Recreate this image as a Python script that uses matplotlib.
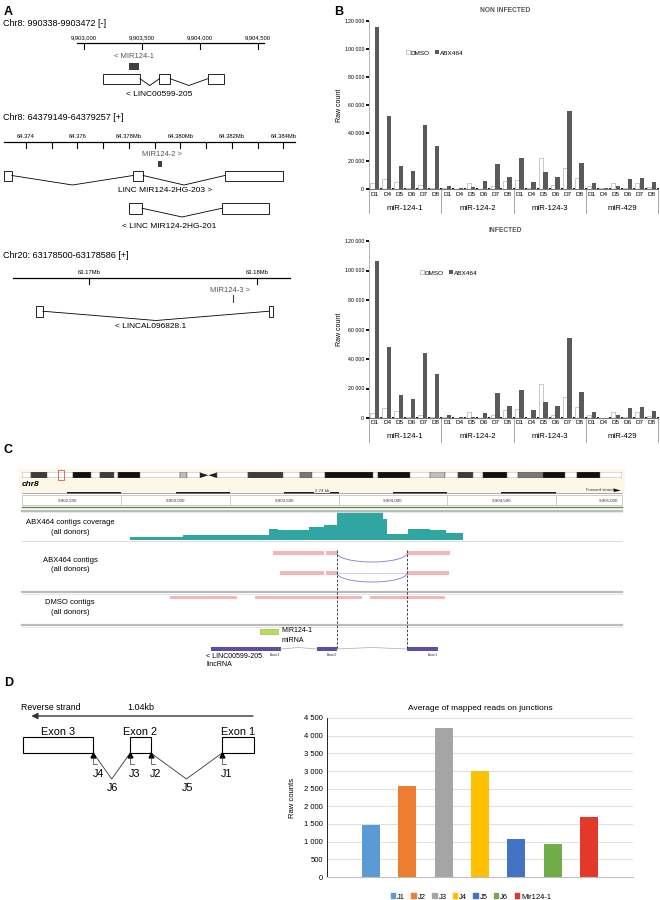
import numpy as np
import matplotlib.pyplot as plt
from matplotlib.patches import Rectangle, Arc, Polygon, Patch

plt.rcParams['font.family'] = ['Liberation Sans', 'DejaVu Sans']
NARROW = ['Liberation Sans Narrow', 'Liberation Sans', 'DejaVu Sans']

W, H = 660, 900

# ---------------- data ----------------
# panel A - MIR124-1 locus (chr8, bp)
mir124_1 = (9903388, 9903472)
linc00599_exons = [(9903165, 9903483), (9903650, 9903743), (9904066, 9904208)]
a1_ruler = (9902940, 9904552)
a1_ticks = [9903000, 9903500, 9904000, 9904500]
a1_labels = ['9,903,000', '9,903,500', '9,904,000', '9,904,500']

# MIR124-2 locus (chr8)
mir124_2 = (64379149, 64379257)
hg203_exons = [(64373140, 64373450), (64378160, 64378550), (64381730, 64383990)]
hg201_exons = [(64378000, 64378510), (64381620, 64383440)]
a2_ruler = (64373140, 64384460)
a2_ticks = [64374000, 64375000, 64376000, 64377000, 64378000, 64379000,
            64380000, 64381000, 64382000, 64383000, 64384000]
a2_labels = {64374000: '64.374', 64376000: '64.376', 64378000: '64.378Mb',
             64380000: '64.380Mb', 64382000: '64.382Mb', 64384000: '64.384Mb'}

# MIR124-3 locus (chr20)
mir124_3 = (63178500, 63178586)
al096828_exons = [(63166850, 63167260), (63180710, 63180950)]
a3_ruler = (63165480, 63181960)
a3_ticks = [63170000, 63180000]
a3_labels = ['63.17Mb', '63.18Mb']

# panel B - raw counts
days = ['D1', 'D4', 'D5', 'D6', 'D7', 'D8']
mirnas = ['miR-124-1', 'miR-124-2', 'miR-124-3', 'miR-429']
noninf_dmso = [4500, 7000, 5000, 500, 2600, 1000,
               500, 300, 4300, 300, 2400, 5700,
               6400, 500, 22000, 2600, 14700, 7600,
               2100, 400, 4000, 500, 4000, 1500]
noninf_abx = [116000, 51800, 16400, 13000, 45400, 30900,
              2400, 1000, 1200, 5500, 17600, 8800,
              21900, 5200, 11900, 8300, 55600, 18300,
              4000, 400, 2100, 6900, 7600, 5000]
inf_dmso = [3600, 6900, 4900, 500, 2200, 900,
            800, 200, 4000, 300, 2000, 5600,
            6200, 300, 22900, 2000, 14400, 7300,
            1800, 300, 4000, 500, 4000, 1500]
inf_abx = [106700, 48400, 15600, 12900, 44000, 29800,
           2000, 900, 700, 3600, 17100, 8200,
           18700, 5100, 10900, 7800, 54400, 17600,
           3800, 300, 2200, 6700, 7300, 4900]

# panel C - genome browser view (chr8, bp)
chr8_bands = [(0, 2.2, 'w'), (2.2, 6.0, 'g1'), (6.0, 12.3, 'w'), (12.3, 16.7, 'k'),
              (16.7, 18.9, 'w'), (18.9, 22.2, 'g1'), (22.2, 23.2, 'w'), (23.2, 28.5, 'k'),
              (28.5, 38.2, 'w'), (38.2, 39.9, 'g3'), (39.9, 43.0, 'w'), (47.1, 54.6, 'w'),
              (54.6, 63.1, 'g1'), (63.1, 67.2, 'w'), (67.2, 70.1, 'g2'), (70.1, 73.2, 'w'),
              (73.2, 84.8, 'k'), (84.8, 86.0, 'w'), (86.0, 93.8, 'k'), (93.8, 98.6, 'w'),
              (98.6, 102.2, 'g3'), (102.2, 105.4, 'w'), (105.4, 109.0, 'g1'), (109.0, 111.4, 'w'),
              (111.4, 117.2, 'k'), (117.2, 119.9, 'w'), (119.9, 125.9, 'g2'), (125.9, 131.2, 'k'),
              (131.2, 134.1, 'w'), (134.1, 139.7, 'k'), (139.7, 145.0, 'w')]
chr8_centromere = (43.0, 47.1)
chr8_view = (8.7, 10.2)
c_ticks = [9902500, 9903000, 9903500, 9904000, 9904500, 9905000]
c_tick_labels = ['9,902,500', '9,903,000', '9,903,500', '9,904,000', '9,904,500', '9,905,000']
cov_edges = [9902790, 9903034, 9903430, 9903471, 9903614, 9903683, 9903743, 9903798,
             9903858, 9903955, 9903973, 9904070, 9904171, 9904245, 9904323]
cov_depth = [3, 5, 11, 10, 13, 15, 28, 30, 28, 21, 6, 11, 10, 7]
abx_contigs_1 = [(9903448, 9903683), (9903692, 9903743), (9904066, 9904263)]
abx_contigs_2 = [(9903481, 9903683), (9903692, 9903743), (9904066, 9904259)]
dmso_contigs = [(9902974, 9903283), (9903366, 9903858), (9903895, 9904240)]
splice = (9903743, 9904066)

# panel D
junction_names = ['J1', 'J2', 'J3', 'J4', 'J5', 'J6', 'Mir124-1']
junction_reads = [1480, 2570, 4230, 3000, 1075, 945, 1700]
junction_colors = ['#5b9bd5', '#ed7d31', '#a5a5a5', '#ffc000', '#4472c4', '#70ad47', '#e3392a']

# ---------------- helpers ----------------
fig = plt.figure(figsize=(W / 100, H / 100), dpi=100)


def px_axes(l, t, r, b):
    return fig.add_axes([l / W, 1 - b / H, (r - l) / W, (b - t) / H])


def track_axes(x0, x1, y0, y1, anchor, anchor_px, px_per_unit):
    ax = px_axes(x0, y0, x1, y1)
    ax.set_xlim(anchor - (anchor_px - x0) / px_per_unit, anchor + (x1 - anchor_px) / px_per_unit)
    ax.set_ylim(y1, y0)
    ax.axis('off')
    return ax


ov = px_axes(0, 0, W, H)
ov.set_xlim(0, W)
ov.set_ylim(H, 0)
ov.axis('off')


def ptext(x, y, s, **kw):
    kw.setdefault('va', 'center')
    ov.text(x, y, s, **kw)


def transcript(ax, exons, top, h, dip, lw=0.6, connect=True):
    for s, e in exons:
        ax.add_patch(Rectangle((s, top), e - s, h, fc='white', ec='black', lw=lw))
    if not connect:
        return
    mid = top + h / 2
    for (s1, e1), (s2, e2) in zip(exons[:-1], exons[1:]):
        ax.plot([e1, (e1 + s2) / 2, s2], [mid, top + h + dip, mid], color='black', lw=lw)


def ruler(ax, span, y, ticks, labels, tlen=6):
    ax.plot(span, [y, y], color='black', lw=0.9)
    for t in ticks:
        ax.plot([t, t], [y, y + tlen], color='black', lw=0.8)
    for t, lab in labels:
        ax.text(t, y - 2.5, lab, ha='center', va='bottom', fontsize=4.2, family=NARROW)


# ---------------- panel A ----------------
ptext(4, 12, 'A', fontsize=9, weight='bold')

a1 = track_axes(0, 330, 15, 100, 9903000, 84, 0.116)
ptext(3, 24, 'Chr8: 990338-9903472 [-]', fontsize=6.5)
ruler(a1, a1_ruler, 43, a1_ticks, zip(a1_ticks, a1_labels))
a1.text(sum(mir124_1) / 2, 57, '< MIR124-1', ha='center', va='center', fontsize=5.5, color='#555555')
a1.add_patch(Rectangle((mir124_1[0], 63), mir124_1[1] - mir124_1[0], 7, fc='#404040', ec='none'))
transcript(a1, linc00599_exons, 73.5, 10.5, 1.5)
a1.text(9903650, 94, '< LINC00599-205', ha='center', va='center', fontsize=6)

a2 = track_axes(0, 330, 110, 235, 64374000, 26, 0.02573)
ptext(3, 118, 'Chr8: 64379149-64379257 [+]', fontsize=6.5)
ruler(a2, a2_ruler, 142, a2_ticks, a2_labels.items())
a2.text(64379300, 155, 'MIR124-2 >', ha='center', va='center', fontsize=5.5, color='#555555')
a2.add_patch(Rectangle((mir124_2[0], 160.5), mir124_2[1] - mir124_2[0] + 40, 6.5, fc='#404040', ec='none'))
transcript(a2, hg203_exons, 170.5, 10, 4.5)
a2.text(64379400, 190, 'LINC MIR124-2HG-203 >', ha='center', va='center', fontsize=6)
transcript(a2, hg201_exons, 203, 10.5, 3.5)
a2.text(64379550, 226, '< LINC MIR124-2HG-201', ha='center', va='center', fontsize=6)

a3 = track_axes(0, 330, 245, 335, 63170000, 89, 0.0168)
ptext(3, 255, 'Chr20: 63178500-63178586 [+]', fontsize=6.5)
ruler(a3, a3_ruler, 278, a3_ticks, zip(a3_ticks, a3_labels))
a3.text(mir124_3[0] - 100, 290, 'MIR124-3 >', ha='center', va='center', fontsize=5.5, color='#555555')
a3.plot([mir124_3[0] + 60, mir124_3[0] + 60], [295, 302], color='#404040', lw=0.8)
transcript(a3, al096828_exons, 306, 10.5, 4)
a3.text(63173650, 327, '< LINCAL096828.1', ha='center', va='center', fontsize=6)

# ---------------- panel B ----------------
ptext(334, 12, 'B', fontsize=9, weight='bold')


def count_panel(t, b, dmso, abx, title, leg_x, leg_y):
    l, r = 369, 658
    ax = px_axes(l, t, r, b)
    hpx = b - t
    n = len(dmso)
    x = np.arange(n)
    ax.bar(x + 0.28, dmso, 0.36, color='white', edgecolor='#b0b0b0', lw=0.5, label='DMSO')
    ax.bar(x + 0.66, abx, 0.36, color='#5a5a5a', lw=0, label='ABX464')
    ax.set_xlim(0, n)
    ax.set_ylim(0, 120000)
    ax.set_facecolor('none')
    for s in ['top', 'right']:
        ax.spines[s].set_visible(False)
    ax.spines['left'].set_color('#999999')
    ax.spines['bottom'].set_color('#777777')
    ax.spines['left'].set_linewidth(0.5)
    ax.spines['bottom'].set_linewidth(0.8)
    ax.set_yticks(np.arange(0, 120001, 20000))
    ax.yaxis.set_major_formatter(lambda v, p: f'{int(v):,}'.replace(',', ' '))
    ax.tick_params(axis='y', length=2, width=1.3, color='black', labelsize=3.8, pad=1.5)
    ax.set_xticks(x + 0.5)
    ax.set_xticklabels(days * len(mirnas))
    ax.set_xticks(np.arange(n + 1), minor=True)
    ax.tick_params(axis='x', which='major', length=0, labelsize=4.6, pad=1.8)
    ax.tick_params(axis='x', which='minor', length=2, width=1.3, color='black', direction='inout')
    tr = ax.get_xaxis_transform()
    for g in range(len(mirnas) + 1):
        ax.plot([g * 6, g * 6], [0, -24 / hpx], transform=tr, clip_on=False, color='#999999', lw=0.6)
    for g, name in enumerate(mirnas):
        ax.text(g * 6 + 3, -19 / hpx, name, transform=tr, ha='center', va='center', fontsize=5.6)
    ax.text(0.47, 1 + 11 / hpx, title, transform=ax.transAxes, ha='center', va='center',
            fontsize=4.8, weight='bold', color='#555555')
    ax.set_ylabel('Raw count', fontsize=5)
    ax.yaxis.set_label_coords(-26 / (r - l), 0.5)
    ax.legend(loc='center left', bbox_to_anchor=(leg_x / W, 1 - leg_y / H), bbox_transform=fig.transFigure,
              ncol=2, frameon=False, fontsize=4.6, handlelength=0.55, handleheight=0.55,
              handletextpad=0.15, columnspacing=0.9, borderpad=0, borderaxespad=0)
    return ax


count_panel(21, 189, noninf_dmso, noninf_abx, 'NON INFECTED', 406, 53)
count_panel(241, 418, inf_dmso, inf_abx, 'INFECTED', 420, 273)

# ---------------- panel C ----------------
ptext(4, 450, 'C', fontsize=9, weight='bold')
ov.add_patch(Rectangle((19, 469), 606, 24, fc='#fcf7e6', ec='none', zorder=0))

band_col = {'w': 'white', 'k': '#111111', 'g1': '#3c3c3c', 'g2': '#777777', 'g3': '#bdbdbd'}
ci = track_axes(22, 622, 472.5, 478, 0, 22, 600 / 145.0)
ci.set_ylim(1, 0)
for s, e, st in chr8_bands:
    ci.add_patch(Rectangle((s, 0), e - s, 1, fc=band_col[st], ec='#555555', lw=0.3))
c0, c1 = chr8_centromere
cm = (c0 + c1) / 2
ci.add_patch(Polygon([(c0, 0), (cm, 0.5), (c0, 1)], fc='#222222', ec='none'))
ci.add_patch(Polygon([(c1, 0), (cm, 0.5), (c1, 1)], fc='#222222', ec='none'))
ci.add_patch(Rectangle((chr8_view[0], -0.4), chr8_view[1] - chr8_view[0], 1.8, fc='none', ec='#e03030', lw=0.5,
                       clip_on=False))
ptext(22, 485, 'chr8', fontsize=6, weight='bold', style='italic')

c = track_axes(0, W, 440, 690, 9902500, 67, 0.2172)
lo, hi = 9902293, 9905055
c.plot([lo, hi], [492.5, 492.5], color='#888888', lw=0.5)
for t in c_ticks:
    if t + 250 <= hi:
        c.add_patch(Rectangle((t, 492), 250, 2.2, fc='#222222', ec='none'))
c.add_patch(Rectangle((lo, 494.5), hi - lo, 10.5, fc='white', ec='#aaaaaa', lw=0.4))
for t in c_ticks:
    if t + 250 < hi:
        c.plot([t + 250, t + 250], [494.5, 505], color='#aaaaaa', lw=0.4)
for t, lab in zip(c_ticks, c_tick_labels):
    c.text(min(t, hi - 60), 500.5, lab, ha='center', va='center', fontsize=3.2, color='#333333')
c.plot([lo, hi], [506.5, 506.5], color='#5d8c3e', lw=1.0)
c.text((lo + hi) / 2, 490.5, '2.74 kb', ha='center', va='center', fontsize=3.2, color='#333333',
       bbox=dict(fc='#fcf7e6', ec='none', pad=0.3))
c.text(hi - 40, 490, 'Forward strand', ha='right', va='center', fontsize=3, color='#333333')
c.add_patch(Polygon([(hi - 38, 488.5), (hi - 5, 490.5), (hi - 38, 492)], fc='#111111', ec='none'))
for y in [510.5, 592, 625]:
    c.plot([lo, hi], [y, y], color='#bbbbbb', lw=1.6)
    c.plot([lo, hi], [y + 1.6, y + 1.6], color='#e4e4e4', lw=0.6)

# coverage
ptext(70, 523, 'ABX464 contigs coverage', fontsize=5.5, ha='center')
ptext(70, 532, '(all donors)', fontsize=5.5, ha='center')
c.plot([lo, hi], [541, 541], color='#dddddd', lw=0.8)
c.stairs(540 - np.array(cov_depth), cov_edges, baseline=540, fill=True, color='#2fa6a1')

# ABX464 contigs
ptext(70, 561, 'ABX464 contigs', fontsize=5.5, ha='center')
ptext(70, 569.5, '(all donors)', fontsize=5.5, ha='center')
sp0, sp1 = splice
for y, contigs in [(553, abx_contigs_1), (573, abx_contigs_2)]:
    for s, e in contigs:
        c.add_patch(Rectangle((s, y - 1.8), e - s, 3.6, fc='#f4b5b7', ec='none'))
    c.add_patch(Arc(((sp0 + sp1) / 2, y), sp1 - sp0, 18, theta1=0, theta2=180, color='#7d78cc', lw=0.6))
c.plot([sp0, sp1], [573, 573], color='#c9c6ea', lw=0.6)
for sx in splice:
    c.plot([sx, sx], [550, 650], color='#222222', lw=0.6, dashes=(3, 2))

# DMSO contigs
ptext(70, 603, 'DMSO contigs', fontsize=5.5, ha='center')
ptext(70, 612, '(all donors)', fontsize=5.5, ha='center')
for s, e in dmso_contigs:
    c.add_patch(Rectangle((s, 595.5), e - s, 3.6, fc='#f4b5b7', ec='none'))

# gene track
c.add_patch(Rectangle((mir124_1[0], 629), mir124_1[1] - mir124_1[0], 4.5, fc='#b9dc5a', ec='#8db33a', lw=0.4))
c.text(mir124_1[1] + 15, 631, 'MIR124-1', ha='left', va='center', fontsize=5)
c.text(mir124_1[1] + 15, 640, 'miRNA', ha='left', va='center', fontsize=5)
for (s1, e1), (s2, e2) in zip(linc00599_exons[:-1], linc00599_exons[1:]):
    c.plot([e1, (e1 + s2) / 2, s2], [649, 647.5, 649], color='#aaaaaa', lw=0.5)
for (s, e), nm in zip(linc00599_exons, ['Exon3', 'Exon2', 'Exon1']):
    c.add_patch(Rectangle((s, 647), e - s, 4, fc='#5a4db0', ec='none'))
    c.text(e - 25, 655, nm, ha='center', va='center', fontsize=2.6, color='#333333')
c.text(linc00599_exons[0][0] - 25, 656, '< LINC00599-205', ha='left', va='center', fontsize=5)
c.text(linc00599_exons[0][0] - 25, 664, 'lincRNA', ha='left', va='center', fontsize=5)

# ---------------- panel D ----------------
ptext(4, 683, 'D', fontsize=9, weight='bold')

d = track_axes(0, 300, 695, 800, linc00599_exons[0][0], 23, 0.221)
g_lo = min(s for s, e in linc00599_exons)
g_hi = max(e for s, e in linc00599_exons)
d.annotate('', xy=(g_lo + 25, 716), xytext=(g_hi + 10, 716),
           arrowprops=dict(arrowstyle='-|>', color='#333333', lw=1.0, mutation_scale=9))
d.text(g_lo - 10, 708, 'Reverse strand', ha='left', va='center', fontsize=6.3)
d.text((g_lo + g_hi) / 2 + 10, 708, f'{(g_hi - g_lo) / 1000:.2f}kb', ha='center', va='center', fontsize=6.5)
transcript(d, linc00599_exons, 737, 16, 0, lw=0.8, connect=False)
for (s, e), nm in zip(linc00599_exons, ['Exon 3', 'Exon 2', 'Exon 1']):
    d.text((s + e) / 2, 732, nm, ha='center', va='center', fontsize=7.8)
ex = linc00599_exons
intr = [(ex[0][1], ex[1][0]), (ex[1][1], ex[2][0])]
for (a, b) in intr:
    d.plot([a, (a + b) / 2, b], [753, 779, 753], color='#333333', lw=0.6)
junction_sites = [(ex[2][0], 'J1'), (ex[1][1], 'J2'), (ex[1][0], 'J3'), (ex[0][1], 'J4')]
for pos, nm in junction_sites:
    d.plot([pos], [754.5], marker='^', ms=3.5, color='black')
    d.plot([pos, pos, pos + 18], [756, 764, 764], color='#333333', lw=0.5)
    d.text(pos + 22, 774, nm, ha='center', va='center', fontsize=7.8)
for (a, b), nm in zip(intr, ['J6', 'J5']):
    d.text((a + b) / 2 + 5, 788, nm, ha='center', va='center', fontsize=7.8)

ax = px_axes(327, 718, 633, 877)
xj = np.arange(len(junction_reads))
ax.bar(xj, junction_reads, 0.5, color=junction_colors, zorder=2)
ax.set_xlim(3 - 4.21, 3 + 4.21)
ax.set_ylim(0, 4500)
ax.set_yticks(np.arange(0, 4501, 500))
ax.yaxis.set_major_formatter(lambda v, p: f'{int(v):,}'.replace(',', ' '))
ax.grid(axis='y', color='#d9d9d9', lw=0.6, zorder=0)
ax.set_xticks([])
ax.tick_params(axis='y', length=0, labelsize=5.5, pad=3)
for s in ['top', 'right']:
    ax.spines[s].set_visible(False)
ax.spines['left'].set_linewidth(0.6)
ax.spines['bottom'].set_color('#bfbfbf')
ax.set_facecolor('none')
ax.set_title('Average of mapped reads on junctions', fontsize=6, pad=6)
ax.set_ylabel('Raw counts', fontsize=5.5)
ax.yaxis.set_label_coords(-31 / 306, 0.5)
handles = [Patch(color=cc) for cc in junction_colors]
ax.legend(handles, junction_names, loc='center', bbox_to_anchor=(471 / W, 1 - 897 / H),
          bbox_transform=fig.transFigure, ncol=7, frameon=False, fontsize=5.5,
          handlelength=0.6, handleheight=0.6, handletextpad=0.25, columnspacing=0.8,
          borderpad=0, borderaxespad=0)

fig.savefig('out.png', dpi=100)
